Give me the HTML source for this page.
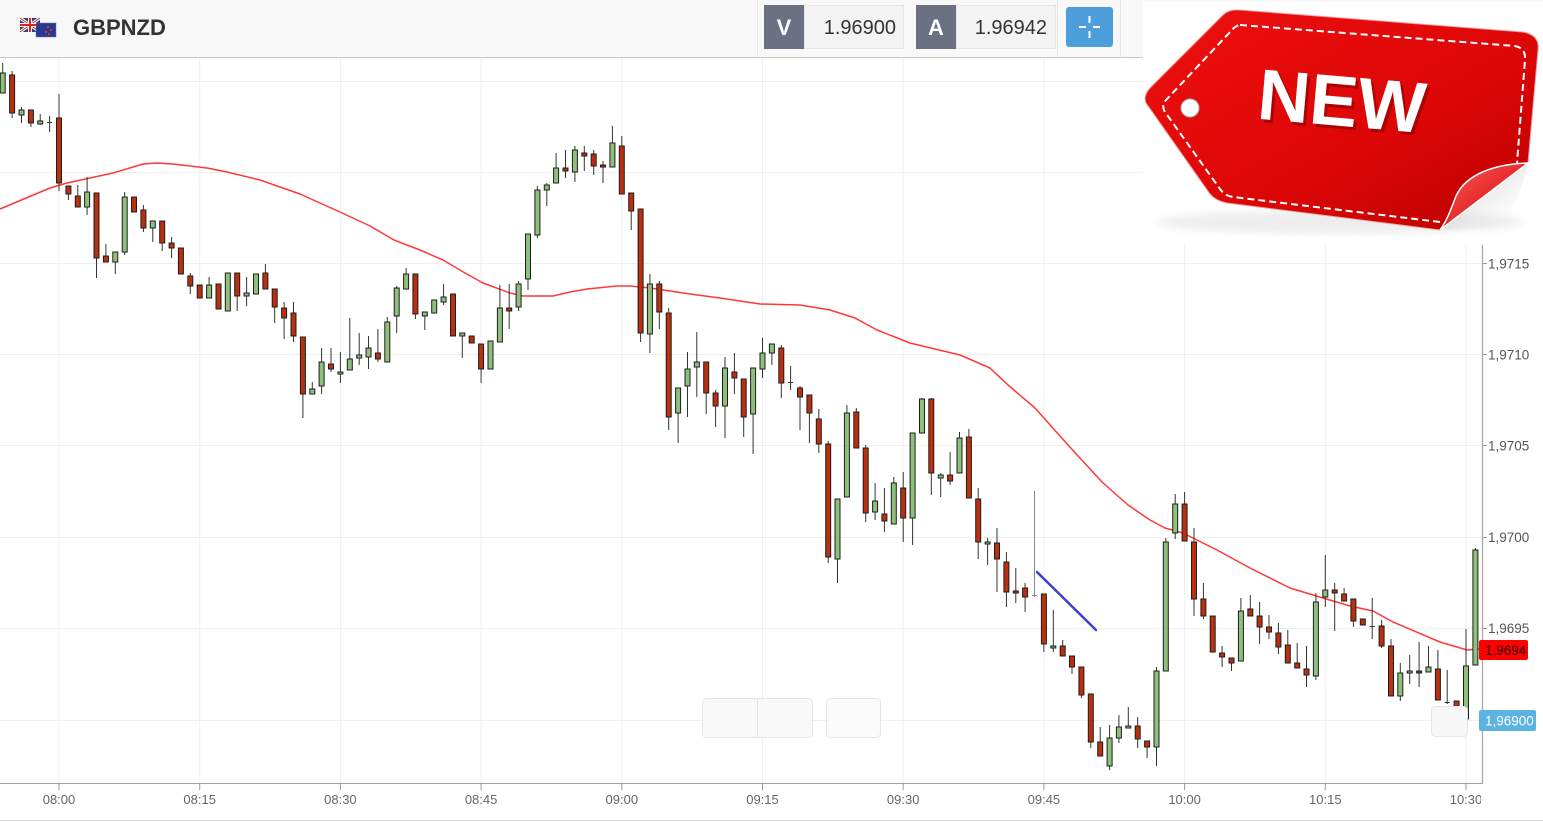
<!DOCTYPE html>
<html><head><meta charset="utf-8"><style>
html,body{margin:0;padding:0;background:#fff;width:1543px;height:822px;overflow:hidden}
svg{display:block}
text{font-family:"Liberation Sans",sans-serif}
</style></head><body>
<svg width="1543" height="822" viewBox="0 0 1543 822" xmlns="http://www.w3.org/2000/svg">
<defs>
<clipPath id="cl"><rect x="0" y="57" width="1481" height="765"/></clipPath>
<linearGradient id="tg" x1="0" y1="0" x2="1" y2="1">
<stop offset="0" stop-color="#ee1010"/><stop offset="0.6" stop-color="#dc0606"/><stop offset="1" stop-color="#b80000"/></linearGradient>
<linearGradient id="fl" x1="0" y1="0" x2="1" y2="1">
<stop offset="0" stop-color="#ff5a5a"/><stop offset="1" stop-color="#d00000"/></linearGradient>
<linearGradient id="sh" x1="0" y1="0" x2="1" y2="1">
<stop offset="0" stop-color="#999" stop-opacity="0.7"/><stop offset="1" stop-color="#fff" stop-opacity="0"/></linearGradient>
<filter id="bl"><feGaussianBlur stdDeviation="4"/></filter>
</defs>
<!-- header -->
<rect x="0" y="0" width="1543" height="57" fill="#f8f8f8"/>
<line x1="0" y1="57.5" x2="1543" y2="57.5" stroke="#c9c9c9"/>
<line x1="757.5" y1="0" x2="757.5" y2="57" stroke="#e6e6e6"/>
<line x1="1057.5" y1="0" x2="1057.5" y2="57" stroke="#e6e6e6"/>
<line x1="1120.5" y1="0" x2="1120.5" y2="57" stroke="#e6e6e6"/>
<!-- flags -->
<g>
<rect x="20" y="18" width="20" height="14" fill="#2b3f8f"/>
<path d="M20 18L40 32M40 18L20 32" stroke="#fff" stroke-width="3"/>
<path d="M20 18L40 32M40 18L20 32" stroke="#d22" stroke-width="1"/>
<path d="M30 18V32M20 25H40" stroke="#fff" stroke-width="4"/>
<path d="M30 18V32M20 25H40" stroke="#d22" stroke-width="2"/>
<rect x="36" y="23" width="20" height="14" fill="#2a3a8c" stroke="#6a7ab8" stroke-width="0.5"/>
<circle cx="48" cy="27" r="1" fill="#e33"/><circle cx="51" cy="30" r="1" fill="#e33"/><circle cx="46" cy="32" r="1" fill="#e33"/><circle cx="49" cy="34" r="1" fill="#e33"/>
</g>
<text x="73" y="35" font-size="22" font-weight="bold" fill="#333">GBPNZD</text>
<rect x="764" y="5" width="40" height="44" fill="#6c7083"/>
<text x="784" y="35" font-size="22" font-weight="bold" fill="#fff" text-anchor="middle">V</text>
<rect x="804.5" y="5.5" width="99" height="43" fill="#f3f3f3" stroke="#e6e6e6"/>
<text x="896" y="34" font-size="20" fill="#333" text-anchor="end">1.96900</text>
<rect x="916" y="5" width="40" height="44" fill="#6c7083"/>
<text x="936" y="35" font-size="22" font-weight="bold" fill="#fff" text-anchor="middle">A</text>
<rect x="956.5" y="5.5" width="99" height="43" fill="#f3f3f3" stroke="#e6e6e6"/>
<text x="1047" y="34" font-size="20" fill="#333" text-anchor="end">1.96942</text>
<rect x="1066" y="7" width="47" height="40" rx="3" fill="#4d9fdc"/>
<path d="M1079 27H1086M1093 27H1100M1089.5 16V23M1089.5 31V38" stroke="#fff" stroke-width="2"/>

<!-- grid -->
<g stroke="#efefef" stroke-width="1">
<path d="M0 81.5H1482M0 172.5H1482M0 263.5H1482M0 354.5H1482M0 445.5H1482M0 537.5H1482M0 628.5H1482M0 720.5H1482"/>
<path d="M59 58V783M199.7 58V783M340.4 58V783M481.1 58V783M621.8 58V783M762.5 58V783M903.2 58V783M1043.9 58V783M1184.6 58V783M1325.3 58V783M1466 58V783"/>
</g>

<!-- MA -->
<path d="M0,209 L50,188 L67,183 L113,173 L143,164 L157,163 L173,164 L207,168 L227,172 L260,180 L300,194 L340,212 L370,226 L394,240 L420,250 L443,260 L465,273 L483,283 L510,293 L523,296 L553,296 L570,292 L587,289 L617,286 L630,286 L650,288 L690,294 L720,298 L760,304 L800,305 L830,310 L855,318 L877,330 L910,343 L960,355 L990,368 L1008,385 L1035,408 L1068,445 L1102,482 L1128,505 L1150,520 L1165,528 L1183,533 L1217,550 L1250,568 L1290,588 L1323,598 L1350,606 L1373,611 L1393,622 L1440,642 L1467,650 L1479,649" fill="none" stroke="#ff3838" stroke-width="1.5" stroke-linejoin="round"/>

<!-- wicks -->
<path stroke="#333" stroke-width="1" fill="none" d="M2.7 63V93M12.1 71V118M21.5 107V123M30.9 110V127M40.2 114V125M49.6 116V132M59 94V191M68.4 186V200M77.8 185V207M87.1 177V215M96.5 193V278M105.9 244V262M115.3 252V274M124.7 192V255M134 197V212M143.4 205V232M152.8 221V242M162.2 221V251M171.6 237V258M180.9 248V274M190.3 273V294M199.7 285V298M209.1 277V298M218.5 284V309M227.8 273V311M237.2 273V311M246.6 277V306M256 274V294M265.4 264V289M274.7 289V323M284.1 302V339M293.5 302V342M302.9 337V418M312.3 382V394M321.6 348V394M331 348V372M340.4 352V383M349.8 318V370M359.2 333V365M368.5 336V369M377.9 329V362M387.3 317V362M396.7 286V333M406.1 268V289M415.4 274V319M424.8 312V330M434.2 300V313M443.6 284V305M453 294V336M462.3 333V358M471.7 336V343M481.1 344V383M490.5 341V369M499.9 285V342M509.2 284V329M518.6 281V311M528 234V290M537.4 186V238M546.8 183V206M556.1 153V183M565.5 150V178M574.9 146V182M584.3 146V171M593.7 150V175M603 161V183M612.4 126V167M621.8 136V194M631.2 193V230M640.6 209V342M649.9 274V353M659.3 281V329M668.7 308V430M678.1 388V443M687.5 352V417M696.8 332V397M706.2 362V414M715.6 390V427M725 357V438M734.4 353V394M743.7 379V437M753.1 368V454M762.5 338V378M771.9 344V365M781.3 345V398M790.6 366V390M800 386V430M809.4 395V443M818.8 409V453M828.2 441V563M837.5 499V583M846.9 405V497M856.3 408V448M865.7 445V522M875.1 483V520M884.4 488V532M893.8 477V524M903.2 472V542M912.6 433V545M922 398V433M931.3 398V495M940.7 473V497M950.1 452V485M959.5 432V473M968.9 429V498M978.2 488V559M987.6 538V565M997 528V592M1006.4 552V607M1015.8 568V603M1025.1 583V612M1043.9 594V652M1053.3 610V652M1062.7 640V656M1072 656V674M1081.4 667V698M1090.8 694V748M1100.2 727V756M1109.6 725V770M1118.9 715V743M1128.3 707V728M1137.7 717V748M1147.1 741V758M1156.5 667V766M1165.8 538V671M1175.2 494V539M1184.6 492V541M1194 528V616M1203.4 583V619M1212.7 616V652M1222.1 646V667M1231.5 658V671M1240.9 598V661M1250.3 595V616M1259.6 602V644M1269 615V639M1278.4 623V654M1287.8 630V663M1297.2 643V668M1306.5 646V687M1315.9 593V680M1325.3 555V607M1334.7 583V631M1344.1 588V601M1353.4 599V627M1362.8 619V625M1372.2 598V639M1381.6 620V648M1391 639V696M1400.3 663V701M1409.7 655V684M1419.1 642V687M1428.5 646V672M1437.9 650V700M1447.2 670V704M1456.6 701V710M1466 629V719M1475.4 548V665"/>
<path stroke="#888" stroke-width="1" d="M1034.5 491V597M1032 595.5h5"/>
<!-- dojis -->
<path stroke="#333" stroke-width="1" d="M47.1 122.5h5M788.1 382.5h5M1369.7 626.5h5M1444.7 702.5h5"/>
<!-- green bodies -->
<path fill="#8dc07a" stroke="#1e1e1e" stroke-width="1" d="M0.2 73h5v20h-5zM19 110h5v5h-5zM37.7 121h5v3h-5zM84.6 192h5v15h-5zM112.8 252h5v10h-5zM122.2 197h5v55h-5zM150.3 221h5v7h-5zM206.6 285h5v13h-5zM225.3 273h5v38h-5zM244.1 293h5v3h-5zM253.5 274h5v20h-5zM309.8 389h5v5h-5zM319.1 362h5v24h-5zM337.9 372h5v2h-5zM347.3 359h5v11h-5zM356.7 355h5v3h-5zM366 348h5v9h-5zM384.8 322h5v40h-5zM394.2 288h5v28h-5zM403.6 274h5v15h-5zM422.3 312h5v4h-5zM431.7 300h5v13h-5zM441.1 297h5v5h-5zM459.8 333h5v3h-5zM488 341h5v28h-5zM497.4 308h5v34h-5zM516.1 284h5v23h-5zM525.5 234h5v45h-5zM534.9 190h5v45h-5zM544.3 185h5v5h-5zM553.6 168h5v15h-5zM572.4 150h5v22h-5zM609.9 143h5v24h-5zM647.4 284h5v50h-5zM675.6 388h5v25h-5zM685 369h5v17h-5zM694.3 362h5v5h-5zM722.5 368h5v38h-5zM750.6 368h5v46h-5zM760 353h5v16h-5zM769.4 344h5v9h-5zM835 499h5v60h-5zM844.4 413h5v84h-5zM872.6 501h5v11h-5zM891.3 483h5v41h-5zM910.1 433h5v85h-5zM919.5 399h5v34h-5zM938.2 475h5v3h-5zM957 438h5v35h-5zM985.1 542h5v2h-5zM1050.8 646h5v2h-5zM1107.1 738h5v28h-5zM1116.4 727h5v11h-5zM1125.8 726h5v2h-5zM1154 671h5v76h-5zM1163.3 542h5v129h-5zM1172.7 504h5v29h-5zM1238.4 611h5v50h-5zM1313.4 602h5v74h-5zM1322.8 590h5v7h-5zM1397.8 673h5v23h-5zM1407.2 671h5v2h-5zM1426 667h5v5h-5zM1463.5 666h5v53h-5zM1472.9 550h5v115h-5z"/>
<!-- red bodies -->
<path fill="#b8300f" stroke="#1e1e1e" stroke-width="1" d="M9.6 75h5v38h-5zM28.4 110h5v13h-5zM56.5 118h5v65h-5zM65.9 186h5v8h-5zM75.3 196h5v11h-5zM94 193h5v65h-5zM103.4 256h5v6h-5zM131.5 197h5v15h-5zM140.9 210h5v18h-5zM159.7 221h5v22h-5zM169.1 243h5v5h-5zM178.4 248h5v26h-5zM187.8 276h5v10h-5zM197.2 285h5v13h-5zM216 284h5v25h-5zM234.7 273h5v23h-5zM262.9 273h5v16h-5zM272.2 289h5v18h-5zM281.6 308h5v10h-5zM291 313h5v23h-5zM300.4 337h5v57h-5zM328.5 364h5v5h-5zM375.4 353h5v6h-5zM412.9 274h5v40h-5zM450.5 294h5v42h-5zM469.2 336h5v7h-5zM478.6 344h5v25h-5zM506.7 308h5v3h-5zM563 168h5v3h-5zM581.8 153h5v3h-5zM591.2 154h5v12h-5zM600.5 165h5v2h-5zM619.3 146h5v48h-5zM628.7 193h5v18h-5zM638.1 209h5v124h-5zM656.8 284h5v28h-5zM666.2 313h5v104h-5zM703.7 362h5v31h-5zM713.1 393h5v13h-5zM731.9 372h5v6h-5zM741.2 379h5v38h-5zM778.8 348h5v35h-5zM797.5 388h5v9h-5zM806.9 395h5v18h-5zM816.3 419h5v25h-5zM825.7 444h5v113h-5zM853.8 412h5v36h-5zM863.2 448h5v65h-5zM881.9 514h5v7h-5zM900.7 488h5v30h-5zM928.8 399h5v74h-5zM947.6 475h5v6h-5zM966.4 437h5v61h-5zM975.7 499h5v43h-5zM994.5 543h5v16h-5zM1003.9 562h5v30h-5zM1013.3 591h5v2h-5zM1022.6 588h5v9h-5zM1041.4 594h5v50h-5zM1060.2 646h5v10h-5zM1069.5 656h5v11h-5zM1078.9 667h5v28h-5zM1088.3 694h5v48h-5zM1097.7 742h5v14h-5zM1135.2 726h5v13h-5zM1144.6 741h5v6h-5zM1182.1 504h5v37h-5zM1191.5 542h5v57h-5zM1200.9 599h5v17h-5zM1210.2 616h5v36h-5zM1219.6 653h5v4h-5zM1229 658h5v5h-5zM1247.8 609h5v7h-5zM1257.1 616h5v11h-5zM1266.5 627h5v5h-5zM1275.9 633h5v14h-5zM1285.3 645h5v18h-5zM1294.7 663h5v5h-5zM1304 669h5v6h-5zM1332.2 590h5v3h-5zM1341.6 594h5v7h-5zM1350.9 599h5v22h-5zM1360.3 619h5v6h-5zM1379.1 626h5v20h-5zM1388.5 646h5v50h-5zM1416.6 671h5v2h-5zM1435.4 669h5v31h-5zM1454.1 701h5v6h-5z"/>

<!-- blue drawing line -->
<path d="M1037 572L1096 630" stroke="#3a40cc" stroke-width="2.5" stroke-linecap="round"/>

<!-- overlay buttons -->
<rect x="702.5" y="698.5" width="110" height="39" rx="4" fill="#f8f8f8" fill-opacity="0.92" stroke="#e6e6e6"/>
<line x1="757.5" y1="699" x2="757.5" y2="737" stroke="#e0e0e0"/>
<rect x="826.5" y="698.5" width="54" height="39" rx="4" fill="#fbfbfb" fill-opacity="0.92" stroke="#e6e6e6"/>
<rect x="1431.5" y="706.5" width="36" height="30" rx="4" fill="#f7f7f7" stroke="#e6e6e6"/>

<!-- axes -->
<line x1="0" y1="783.5" x2="1482" y2="783.5" stroke="#a0a0a0"/>
<line x1="1482.5" y1="57" x2="1482.5" y2="784" stroke="#a8a8a8" stroke-width="1.3"/>
<path stroke="#999" d="M59 784V790M199.7 784V790M340.4 784V790M481.1 784V790M621.8 784V790M762.5 784V790M903.2 784V790M1043.9 784V790M1184.6 784V790M1325.3 784V790M1466 784V790"/>
<path stroke="#999" d="M1483 263.5H1487M1483 354.5H1487M1483 445.5H1487M1483 537.5H1487M1483 628.5H1487M1483 720.5H1487M1483 172.5H1487"/>
<g clip-path="url(#cl)" font-size="13" fill="#666" text-anchor="middle">
<text x="59" y="804">08:00</text>
<text x="199.7" y="804">08:15</text>
<text x="340.4" y="804">08:30</text>
<text x="481.1" y="804">08:45</text>
<text x="621.8" y="804">09:00</text>
<text x="762.5" y="804">09:15</text>
<text x="903.2" y="804">09:30</text>
<text x="1043.9" y="804">09:45</text>
<text x="1184.6" y="804">10:00</text>
<text x="1325.3" y="804">10:15</text>
<text x="1466" y="804">10:30</text>
</g>
<g font-size="13.5" fill="#555">
<text x="1488" y="268.5">1,9715</text>
<text x="1488" y="359.5">1,9710</text>
<text x="1488" y="450.5">1,9705</text>
<text x="1488" y="542">1,9700</text>
<text x="1488" y="633">1,9695</text>
</g>
<rect x="1479" y="640" width="49" height="20" rx="2" fill="#ff0000"/>
<text x="1485" y="655" font-size="13.5" fill="#2a0000">1,9694</text>
<rect x="1479" y="710" width="57" height="21" rx="2" fill="#5ab3e0"/>
<text x="1485" y="725.5" font-size="13.5" fill="#fff">1,96900</text>
<line x1="0" y1="820.5" x2="1543" y2="820.5" stroke="#dcdcdc"/>

<!-- NEW tag image -->
<rect x="1143" y="2" width="400" height="243" fill="#fff"/>
<ellipse cx="1340" cy="222" rx="185" ry="12" fill="#bbb" opacity="0.25" filter="url(#bl)"/>
<path d="M1146 103 Q1143 96 1150 88 L1223 15 Q1229 9 1240 10 L1523 32 Q1540 35 1538 50 L1528 163 L1440 230 L1227 203 Q1216 201 1210 194 Z" fill="url(#tg)" stroke="#f0a0a0" stroke-width="1"/>
<path d="M1528 163 L1440 230 L1500 228 Q1520 200 1528 163Z" fill="url(#sh)"/>
<path d="M1528 163 C1495 164 1466 174 1456 196 C1450 212 1446 222 1440 230 L1528 163Z" fill="url(#fl)" stroke="#fff" stroke-width="1.5"/>
<path d="M1240 25 L1515 46 Q1526 48 1525 60 L1517 163 M1440 222 L1233 197 Q1225 196 1220 189 L1165 112 Q1161 106 1166 100 L1232 30 Q1235 26 1240 25" fill="none" stroke="#fff" stroke-width="2" stroke-dasharray="7 4"/>
<circle cx="1190" cy="108" r="9" fill="#fff" stroke="#b0b0b0" stroke-width="1"/>
<g transform="rotate(5 1342 101)">
<text x="1345" y="129" font-size="72" font-weight="bold" fill="#8a0000" text-anchor="middle" opacity="0.6">NEW</text>
<text x="1342" y="126" font-size="72" font-weight="bold" fill="#fff" text-anchor="middle">NEW</text>
</g>
</svg>
</body></html>
